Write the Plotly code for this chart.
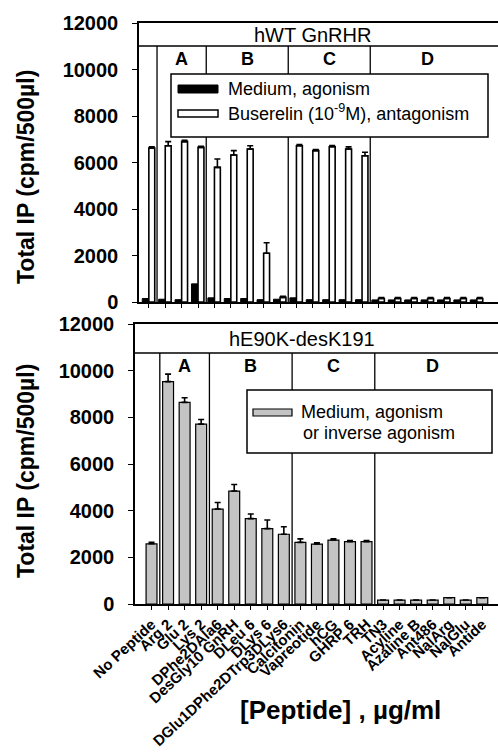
import plotly.graph_objects as go

W, H = 498, 752
FONT = "Liberation Sans, Arial, sans-serif"

categories = ["No Peptide", "Arg 2", "Glu 2", "Lys 2", "DPhe2DAla6", "DesGly10 GnRH",
              "DLeu 6", "DLys 6", "DGlu1DPhe2DTrp3DLys6", "Calcitonin", "Vapreotide",
              "hCG", "GHRP 6", "TRH", "TN3", "Acyline", "Azaline B", "Ant486",
              "NalArg", "NalGlu", "Antide"]

top_medium = [150, 120, 100, 780, 180, 150, 150, 100, 120, 180, 100, 100, 100, 100,
              90, 90, 90, 90, 90, 90, 90]
top_buserelin = [6620, 6720, 6900, 6650, 5790, 6320, 6580, 2100, 200, 6720, 6510,
                 6680, 6580, 6290, 150, 150, 150, 150, 150, 150, 150]
top_buserelin_err = [50, 180, 50, 50, 360, 190, 140, 450, 50, 50, 50, 50, 90, 150,
                     40, 40, 40, 40, 40, 40, 40]

bottom_medium = [2580, 9530, 8640, 7710, 4070, 4840, 3660, 3230, 2990, 2640, 2570,
                 2740, 2670, 2670, 170, 170, 170, 170, 270, 170, 270]
bottom_medium_err = [60, 320, 200, 200, 280, 280, 200, 370, 320, 150, 50, 50, 50, 50,
                     0, 0, 0, 0, 0, 0, 0]

group_labels = ["A", "B", "C", "D"]
group_centers = [2, 6, 11, 17]
group_bounds = [0.5, 3.5, 8.5, 13.5]
y_ticks = [0, 2000, 4000, 6000, 8000, 10000, 12000]
y_tick_text = ["0", "2000", "4000", "6000", "8000", "10000", "12000"]

panel_titles = ["hWT GnRHR", "hE90K-desK191"]
header_bottom = [11011, 10757]

idx = list(range(len(categories)))
n = len(idx)


def fx(p):
    return p / W


def fy(p):
    return 1 - p / H


fig = go.Figure()

fig.add_trace(go.Bar(
    x=idx, y=top_medium, xaxis="x", yaxis="y", width=0.38, offset=-0.40,
    marker=dict(color="black", line=dict(color="black", width=1)),
    showlegend=False))
fig.add_trace(go.Bar(
    x=idx, y=top_buserelin, xaxis="x", yaxis="y", width=0.36, offset=0.0,
    marker=dict(color="white", line=dict(color="black", width=1.6)),
    error_y=dict(type="data", array=top_buserelin_err, arrayminus=[0] * n,
                 symmetric=False, color="black", thickness=1.6, width=3),
    showlegend=False))
fig.add_trace(go.Bar(
    x=idx, y=bottom_medium, xaxis="x2", yaxis="y2", width=0.66,
    marker=dict(color="#c4c4c4", line=dict(color="black", width=1.2)),
    error_y=dict(type="data", array=bottom_medium_err, arrayminus=[0] * n,
                 symmetric=False, color="black", thickness=1.6, width=3),
    showlegend=False))

axis_common = dict(showgrid=False, zeroline=False, showline=True, linecolor="black",
                   linewidth=1.5, ticks="outside", tickcolor="black", automargin=False)

fig.update_layout(
    width=W, height=H, margin=dict(l=0, r=0, t=0, b=0, pad=0, autoexpand=False),
    paper_bgcolor="white", plot_bgcolor="white", barmode="overlay",
    font=dict(family=FONT, color="black"),
    xaxis=dict(domain=[fx(139), 1], range=[-0.6, 21.29], anchor="y", mirror=True,
               tickvals=idx, showticklabels=False, ticklen=4, tickwidth=1.2,
               **axis_common),
    yaxis=dict(domain=[fy(302), fy(23)], range=[0, 12000], anchor="x",
               tickvals=y_ticks, ticktext=y_tick_text, ticklen=5, tickwidth=1.2,
               ticklabelstandoff=10,
               tickfont=dict(size=20, weight="bold", family=FONT), **axis_common),
    xaxis2=dict(domain=[fx(135), 1], range=[-1.0, 20.95], anchor="y2", mirror=True,
                tickvals=idx, ticktext=categories, tickangle=-43, ticklen=4,
                tickwidth=1.2, tickfont=dict(size=15, weight="bold", family=FONT),
                **axis_common),
    yaxis2=dict(domain=[fy(604), fy(324)], range=[0, 12000], anchor="x2",
                tickvals=y_ticks, ticktext=y_tick_text, ticklen=5, tickwidth=1.2,
                ticklabelstandoff=10,
                tickfont=dict(size=20, weight="bold", family=FONT), **axis_common),
)

shapes = []
annotations = []
for k, (xr, yr) in enumerate([("x", "y"), ("x2", "y2")]):
    # header band bottom line
    shapes.append(dict(type="line", xref=xr + " domain", yref=yr, x0=0, x1=1,
                       y0=header_bottom[k], y1=header_bottom[k],
                       line=dict(color="black", width=1.5)))
    # group dividers
    for b in group_bounds:
        shapes.append(dict(type="line", xref=xr, yref=yr, x0=b, x1=b, y0=0,
                           y1=header_bottom[k], line=dict(color="black", width=1.3)))
    annotations.append(dict(xref=xr, yref=yr, x=[10.0, 9.1][k],
                            y=(12000 + header_bottom[k]) / 2, text=panel_titles[k],
                            xanchor="center", yanchor="middle", showarrow=False,
                            font=dict(size=20, family=FONT)))
    for g, c in zip(group_labels, group_centers):
        annotations.append(dict(xref=xr, yref=yr, x=c,
                                y=header_bottom[k] - 560, text=g, showarrow=False,
                                xanchor="center", yanchor="middle",
                                font=dict(size=18, weight="bold", family=FONT)))

# legend, top panel
shapes.append(dict(type="rect", xref="paper", yref="paper", x0=fx(171), x1=fx(488),
                   y0=fy(137), y1=fy(74), fillcolor="white",
                   line=dict(color="black", width=1.5)))
shapes.append(dict(type="rect", xref="paper", yref="paper", x0=fx(178), x1=fx(218),
                   y0=fy(93), y1=fy(85), fillcolor="black",
                   line=dict(color="black", width=1)))
shapes.append(dict(type="rect", xref="paper", yref="paper", x0=fx(178), x1=fx(218),
                   y0=fy(117), y1=fy(110), fillcolor="white",
                   line=dict(color="black", width=1.5)))
annotations.append(dict(xref="paper", yref="paper", x=fx(226), y=fy(89),
                        xanchor="left", yanchor="middle", text="Medium, agonism",
                        showarrow=False, font=dict(size=18, family=FONT)))
annotations.append(dict(xref="paper", yref="paper", x=fx(226), y=fy(113),
                        xanchor="left", yanchor="middle",
                        text="Buserelin (10<sup>-9</sup>M), antagonism",
                        showarrow=False, font=dict(size=18, family=FONT)))

# legend, bottom panel
shapes.append(dict(type="rect", xref="paper", yref="paper", x0=fx(247), x1=fx(492),
                   y0=fy(453), y1=fy(390), fillcolor="white",
                   line=dict(color="black", width=1.5)))
shapes.append(dict(type="rect", xref="paper", yref="paper", x0=fx(253), x1=fx(292),
                   y0=fy(416), y1=fy(409), fillcolor="#c4c4c4",
                   line=dict(color="black", width=1.2)))
annotations.append(dict(xref="paper", yref="paper", x=fx(299), y=fy(412),
                        xanchor="left", yanchor="middle", text="Medium, agonism",
                        showarrow=False, font=dict(size=18, family=FONT)))
annotations.append(dict(xref="paper", yref="paper", x=fx(301), y=fy(433),
                        xanchor="left", yanchor="middle", text="or inverse agonism",
                        showarrow=False, font=dict(size=18, family=FONT)))

# axis titles
for cy in (177, 471):
    annotations.append(dict(xref="paper", yref="paper", x=fx(26), y=fy(cy),
                            xanchor="center", yanchor="middle",
                            text="Total IP (cpm/500µl)", textangle=-90, showarrow=False,
                            font=dict(size=23, weight="bold", family=FONT)))
annotations.append(dict(xref="paper", yref="paper", x=fx(340), y=fy(710),
                        xanchor="center", yanchor="middle",
                        text="[Peptide] , µg/ml", showarrow=False,
                        font=dict(size=26, weight="bold", family=FONT)))

fig.update_layout(shapes=shapes, annotations=annotations)
fig.write_html("out.html")
